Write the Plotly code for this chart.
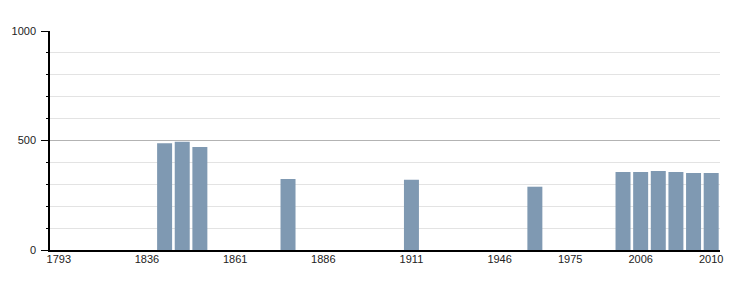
import plotly.graph_objects as go

years = ["1793", "1800", "1806", "1821", "1831", "1836", "1841", "1846", "1851", "1856",
         "1861", "1866", "1872", "1876", "1881", "1886", "1891", "1896", "1901", "1906",
         "1911", "1921", "1926", "1931", "1936", "1946", "1954", "1962", "1968", "1975",
         "1982", "1990", "1999", "2006", "2007", "2008", "2009", "2010"]
population = {
    "1841": 488, "1846": 494, "1851": 470, "1876": 324, "1911": 321, "1962": 289,
    "1999": 356, "2006": 356, "2007": 361, "2008": 356, "2009": 352, "2010": 352,
}
values = [population.get(y) for y in years]
label_years = ["1793", "1836", "1861", "1886", "1911", "1946", "1975", "2006", "2010"]

fig = go.Figure(go.Bar(x=years, y=values, marker=dict(color="#7f99b2", line=dict(width=0)),
                       hoverinfo="x+y"))

fig.update_layout(
    template="none",
    width=750, height=300,
    margin=dict(l=50, r=30, t=31, b=50, pad=0),
    paper_bgcolor="white", plot_bgcolor="white",
    bargap=0.15, showlegend=False,
    font=dict(family="Liberation Sans, Arial, sans-serif", size=11, color="#000"),
)
fig.update_xaxes(
    type="category", categoryorder="array", categoryarray=years,
    tickmode="array", tickvals=label_years, ticktext=label_years,
    showline=True, linecolor="#000", linewidth=1.5, ticks="", showgrid=False,
    tickfont=dict(size=11, color="#222"), tickangle=0, zeroline=False,
    ticklabelstandoff=-2,
)
fig.update_yaxes(
    range=[0, 1000], tickvals=[0, 500, 1000], ticktext=["0", "500", "1000"],
    showline=True, linecolor="#000", linewidth=1.5,
    ticks="outside", ticklen=7, tickcolor="#000", tickwidth=1,
    showgrid=True, gridcolor="#b3b3b3", gridwidth=1, zeroline=False,
    minor=dict(dtick=100, tick0=0, ticks="outside", ticklen=2, tickcolor="#000",
               showgrid=True, gridcolor="#e3e3e3", gridwidth=1),
    tickfont=dict(size=11, color="#222"), ticklabelstandoff=3,
)

fig.write_html("out.html")
